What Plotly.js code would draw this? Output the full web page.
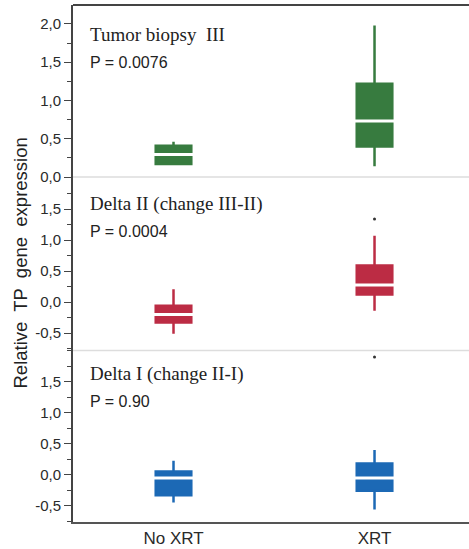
<!DOCTYPE html>
<html>
<head>
<meta charset="utf-8">
<script src="https://cdn.plot.ly/plotly-3.0.1.min.js"></script>
<style>html,body{margin:0;padding:0;background:#fff;}#chart{width:469px;height:549px;}</style>
</head>
<body>
<div id="chart"></div>
<script>
// ---- data ----
var categories = ['No XRT', 'XRT'];
var categoryPos = [0, 1];

var panelTitles = ['Tumor biopsy  III', 'Delta II (change III-II)', 'Delta I (change II-I)'];
var pTexts = ['P = 0.0076', 'P = 0.0004', 'P = 0.90'];

// Tumor biopsy III
var tumorQ1 = [0.17, 0.40];
var tumorMedian = [0.295, 0.733];
var tumorQ3 = [0.41, 1.22];
var tumorLower = [0.17, 0.14];
var tumorUpper = [0.46, 1.98];
var tumorOutX = [];
var tumorOutY = [];

// Delta II (change III-II)
var delta2Q1 = [-0.33, 0.12];
var delta2Median = [-0.20, 0.274];
var delta2Q3 = [-0.06, 0.59];
var delta2Lower = [-0.51, -0.14];
var delta2Upper = [0.205, 1.07];
var delta2OutX = [1];
var delta2OutY = [1.34];

// Delta I (change II-I)
var delta1Q1 = [-0.33, -0.26];
var delta1Median = [-0.053, -0.053];
var delta1Q3 = [0.05, 0.18];
var delta1Lower = [-0.45, -0.56];
var delta1Upper = [0.225, 0.40];
var delta1OutX = [1];
var delta1OutY = [1.90];

// tick labels
var tickVals1 = [0, 0.5, 1, 1.5, 2];
var tickText1 = ['0,0', '0,5', '1,0', '1,5', '2,0'];
var tickVals23 = [-0.5, 0, 0.5, 1, 1.5];
var tickText23 = ['-0,5', '0,0', '0,5', '1,0', '1,5'];

// ---- styles ----
var colors = ['#377b3f', '#bc2c44', '#1c69b5'];
var axes = ['y', 'y2', 'y3'];
var stats = [
  {q1: tumorQ1, med: tumorMedian, q3: tumorQ3, lo: tumorLower, hi: tumorUpper, ox: tumorOutX, oy: tumorOutY},
  {q1: delta2Q1, med: delta2Median, q3: delta2Q3, lo: delta2Lower, hi: delta2Upper, ox: delta2OutX, oy: delta2OutY},
  {q1: delta1Q1, med: delta1Median, q3: delta1Q3, lo: delta1Lower, hi: delta1Upper, ox: delta1OutX, oy: delta1OutY}
];

var traces = [];
stats.forEach(function (s, i) {
  traces.push({
    type: 'box', x: categoryPos, q1: s.q1, median: s.med, q3: s.q3,
    lowerfence: s.lo, upperfence: s.hi,
    xaxis: 'x', yaxis: axes[i],
    fillcolor: colors[i], line: {color: colors[i], width: 2.5},
    whiskerwidth: 0, width: 0.177, boxpoints: false,
    showlegend: false, hoverinfo: 'skip'
  });
  traces.push({
    type: 'scatter', mode: 'markers', x: categoryPos, y: s.med,
    xaxis: 'x', yaxis: axes[i],
    marker: {symbol: 'line-ew', size: 30, color: '#ffffff', line: {color: '#ffffff', width: 3}},
    showlegend: false, hoverinfo: 'skip', cliponaxis: false
  });
  if (s.ox.length) {
    traces.push({
      type: 'scatter', mode: 'markers', x: s.ox, y: s.oy,
      xaxis: 'x', yaxis: axes[i],
      marker: {size: 3, color: '#333333'},
      showlegend: false, hoverinfo: 'skip', cliponaxis: false
    });
  }
});

var tickFont = {family: 'Liberation Sans, Arial, sans-serif', size: 15, color: '#2a2a2a'};
function yax(domain, range, vals, text) {
  return {
    domain: domain, range: range, anchor: 'x',
    tickmode: 'array', tickvals: vals, ticktext: text,
    ticks: 'outside', ticklen: 7, tickwidth: 1, tickcolor: '#444444',
    minor: {tickmode: 'linear', tick0: 0, dtick: 0.25, ticks: 'outside', ticklen: 4, tickwidth: 1, tickcolor: '#444444'},
    showline: true, linecolor: '#444444', linewidth: 2,
    showgrid: false, zeroline: false, tickfont: tickFont, fixedrange: true
  };
}

var d1 = (522 - 177) / 517, d2 = (522 - 350.5) / 517;

var annotations = [];
var titleY = [0.942, 0.616, 0.287];
var pY = [0.888, 0.562, 0.2335];
for (var i = 0; i < 3; i++) {
  annotations.push({
    xref: 'paper', yref: 'paper', x: 0.038, y: titleY[i], xanchor: 'left', yanchor: 'middle',
    text: panelTitles[i], showarrow: false,
    font: {family: 'Liberation Serif, Times New Roman, serif', size: 19, color: '#222222'}
  });
  annotations.push({
    xref: 'paper', yref: 'paper', x: 0.038, y: pY[i], xanchor: 'left', yanchor: 'middle',
    text: pTexts[i], showarrow: false,
    font: {family: 'Liberation Sans, Arial, sans-serif', size: 16, color: '#222222'}
  });
}
annotations.push({
  xref: 'paper', yref: 'paper', x: 0, y: 0.5, xanchor: 'center', yanchor: 'middle',
  xshift: -53, textangle: -90,
  text: 'Relative  TP  gene  expression', showarrow: false,
  font: {family: 'Liberation Sans, Arial, sans-serif', size: 18.5, color: '#222222'}
});

var layout = {
  width: 469, height: 549,
  margin: {l: 73, r: 0, t: 5, b: 27, pad: 0},
  paper_bgcolor: '#ffffff', plot_bgcolor: '#ffffff',
  showlegend: false, hovermode: false,
  xaxis: {
    range: [-0.5, 1.47], anchor: 'y3', tickmode: 'array', tickvals: categoryPos, ticktext: categories,
    ticks: '', showline: true, linecolor: '#555555', linewidth: 2,
    showgrid: false, zeroline: false, fixedrange: true,
    tickfont: {family: 'Liberation Sans, Arial, sans-serif', size: 17, color: '#2a2a2a'}
  },
  yaxis: yax([d1, 1], [0, 2.248], tickVals1, tickText1),
  yaxis2: yax([d2, d1], [-0.782, 2.016], tickVals23, tickText23),
  yaxis3: yax([0, d2], [-0.763, 2.003], tickVals23, tickText23),
  shapes: [
    {type: 'line', xref: 'paper', yref: 'paper', x0: 0, x1: 1, y0: 1, y1: 1, line: {color: '#444444', width: 2}},
    {type: 'line', xref: 'paper', yref: 'paper', x0: 0, x1: 1, y0: d1, y1: d1, line: {color: '#dddddd', width: 1.5}},
    {type: 'line', xref: 'paper', yref: 'paper', x0: 0, x1: 1, y0: d2, y1: d2, line: {color: '#dddddd', width: 1.5}}
  ],
  annotations: annotations
};

Plotly.newPlot('chart', traces, layout, {displayModeBar: false, staticPlot: true});
</script>
</body>
</html>
